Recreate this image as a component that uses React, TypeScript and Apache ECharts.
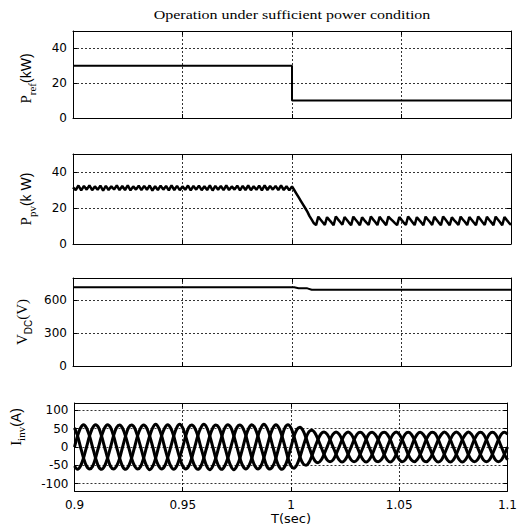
import React, { useEffect, useRef } from "react";
import * as echarts from "echarts";

const TITLE = "Operation under sufficient power condition";
const X_NAME = "T(sec)";
const X_MIN = 0.9;
const X_MAX = 1.1;
const X_TICKS = [0.9, 0.95, 1, 1.05, 1.1];

// Panel 1: P_ref (kW)
const PREF_T = [0.9, 1.0, 1.0, 1.1];
const PREF_V = [30, 30, 10, 10];
const PREF_TICKS = [0, 20, 40];

// Panel 2: P_pv (kW)
const PPV_PRE_T0 = 0.9;
const PPV_PRE_DT = 0.00125;
const PPV_PRE = [
  31.5, 30.0, 32.5, 29.8, 32.2, 30.2, 32.6, 29.9, 32.0, 30.1,
  32.4, 29.7, 32.3, 30.0, 32.1, 30.3, 32.5, 29.9, 32.2, 30.0,
  32.6, 29.8, 32.0, 30.2, 32.4, 29.9, 32.3, 30.1, 32.5, 29.7,
  32.1, 30.0, 32.4, 30.2, 32.2, 29.8, 32.6, 30.0, 32.3, 29.9,
  32.0, 30.1, 32.5, 29.8, 32.2, 30.2, 32.4, 29.9, 32.1, 30.0,
  32.6, 29.7, 32.3, 30.1, 32.2, 29.9, 32.5, 30.0, 32.0, 30.2,
  32.4, 29.8, 32.3, 30.0, 32.5, 29.9, 32.1, 30.1, 32.4, 29.8,
  32.6, 30.0, 32.2, 30.2, 32.3, 29.9, 32.5, 30.0, 32.1, 29.8,
  32.0,
];
const PPV_POST_T0 = 1.001;
const PPV_POST_DT = 0.001;
const PPV_POST = [
  30.0, 28.0, 26.0, 24.0, 22.0, 20.0, 18.0, 15.5, 13.5, 11.5, 10.5,
  15.2, 13.6, 12.1, 10.6,
  14.9, 13.4, 12.0, 10.4,
  15.3, 13.7, 12.2, 10.7,
  15.0, 13.5, 11.9, 10.5,
  15.2, 13.6, 12.1, 10.4,
  14.8, 13.3, 11.9, 10.6,
  15.3, 13.7, 12.2, 10.5,
  15.1, 13.5, 12.0, 10.4,
  15.2, 14.0, 12.8, 11.6, 10.5,
  15.0, 13.4, 11.9, 10.6,
  15.3, 13.7, 12.1, 10.5,
  14.9, 13.4, 12.0, 10.4,
  15.2, 13.6, 12.2, 10.6,
  15.1, 13.5, 11.9, 10.5,
  15.3, 13.7, 12.1, 10.4,
  14.8, 13.3, 12.0, 10.6,
  15.2, 13.6, 12.2, 10.5,
  15.0, 13.5, 11.9, 10.4,
  15.3, 13.7, 12.1, 10.6,
  15.1, 13.5, 12.0, 10.5,
  15.2, 13.6, 12.1, 10.4,
  15.0, 13.4, 11.9, 10.6,
];
const PPV_TICKS = [0, 20, 40];

// Panel 3: V_DC (V)
const VDC_T = [0.9, 1.001, 1.003, 1.007, 1.009, 1.1];
const VDC_V = [715, 715, 707, 706, 693, 693];
const VDC_TICKS = [0, 300, 600];

// Panel 4: I_inv (A), three phases sampled every 1/720 s
const IINV_T0 = 0.9;
const IINV_DT = 1 / 720;
const IA = [
  0, 30, 52, 61, 52, 30, 0, -30, -53, -61, -52, -30,
  0, 31, 53, 60, 51, 29, 0, -31, -52, -60, -53, -30,
  1, 30, 52, 62, 52, 30, -1, -30, -52, -61, -52, -29,
  0, 30, 53, 60, 52, 31, 0, -29, -53, -62, -52, -30,
  0, 29, 52, 61, 53, 30, 1, -30, -52, -60, -51, -30,
  0, 30, 52, 62, 52, 30, 0, -31, -53, -61, -52, -30,
  0, 29, 48, 54, 45, 25, 0, -23, -38, -43, -36, -20,
  0, 20, 35, 41, 35, 20, 0, -20, -35, -40, -35, -20,
  0, 21, 36, 40, 34, 20, 0, -21, -35, -41, -35, -20,
  0, 20, 35, 40, 35, 21, 0, -20, -36, -40, -34, -20,
  0, 20, 34, 41, 35, 20, 0, -20, -35, -41, -35, -21,
  0, 21, 35, 40, 35, 20, 0, -20, -35, -40, -35, -20,
  0,
];
const IB = [
  -52, -61, -52, -30, 0, 30, 52, 61, 53, 30, 0, -30,
  -53, -60, -52, -31, 0, 30, 53, 60, 52, 29, 0, -30,
  -52, -62, -53, -30, 1, 31, 52, 61, 52, 30, -1, -30,
  -52, -60, -52, -30, 0, 30, 52, 62, 53, 30, 0, -31,
  -53, -61, -51, -30, 0, 29, 53, 60, 52, 31, 0, -30,
  -52, -60, -52, -29, 0, 30, 52, 61, 52, 30, 1, -30,
  -52, -58, -48, -27, 0, 25, 42, 46, 38, 21, 0, -20,
  -35, -40, -35, -20, 0, 20, 35, 41, 35, 20, 0, -20,
  -35, -41, -35, -21, 0, 20, 36, 40, 35, 21, 0, -20,
  -34, -40, -35, -20, 0, 21, 35, 40, 34, 20, 0, -20,
  -35, -41, -36, -20, 0, 20, 35, 41, 35, 20, 0, -21,
  -35, -40, -35, -20, 0, 20, 35, 40, 35, 20, 0, -20,
  -35,
];
const IC = [
  52, 31, 0, -30, -52, -60, -53, -30, 0, 30, 52, 61,
  53, 30, 0, -30, -53, -61, -52, -30, 0, 31, 52, 60,
  52, 30, 1, -31, -52, -60, -52, -29, 0, 30, 53, 62,
  52, 29, 0, -30, -52, -61, -53, -30, 0, 30, 52, 60,
  53, 31, 0, -30, -52, -62, -52, -31, -1, 30, 52, 61,
  52, 30, 0, -29, -53, -60, -52, -30, 0, 29, 53, 61,
  52, 29, 0, -27, -45, -50, -42, -23, 0, 21, 36, 41,
  35, 20, 0, -20, -35, -41, -35, -20, 0, 20, 35, 40,
  35, 21, 0, -20, -36, -40, -35, -21, 0, 20, 35, 41,
  35, 20, 0, -21, -35, -40, -34, -20, 0, 21, 35, 40,
  36, 20, 0, -20, -35, -41, -35, -20, 0, 20, 34, 41,
  35, 20, 0, -20, -35, -40, -35, -20, 0, 20, 35, 40,
  35,
];
const IINV_TICKS = [-100, -50, 0, 50, 100];

const SANS = "'DejaVu Sans', sans-serif";
const ARIAL = "'Liberation Sans', Arial, sans-serif";
const SERIF = "'Liberation Serif', 'Times New Roman', serif";

const pairs = (ts: number[], vs: number[]) => ts.map((t, i) => [t, vs[i]]);
const sampled = (t0: number, dt: number, vs: number[]) =>
  vs.map((v, i) => [+(t0 + i * dt).toFixed(6), v]);

const GRIDS = [
  { top: 31, height: 87 },
  { top: 154, height: 90 },
  { top: 278, height: 88 },
  { top: 403, height: 88 },
];

const PANELS = [
  {
    min: 0, max: 50, ticks: PREF_TICKS,
    name: "{m|P}{s|ref}{u|(kW)}", nameGap: 36, pad: [0, 8, 0, 0],
  },
  {
    min: 0, max: 50, ticks: PPV_TICKS,
    name: "{m|P}{s|pv}{u|(k W)}", nameGap: 36, pad: [0, 0, 0, 0],
  },
  {
    min: 0, max: 800, ticks: VDC_TICKS,
    name: "{m|V}{s2|DC}{m|(V)}", nameGap: 40, pad: [0, 0, 0, 0],
  },
  {
    min: -120, max: 120, ticks: IINV_TICKS,
    name: "{m|I}{s|inv}{u|(A)}", nameGap: 48, pad: [0, 0, 0, 40],
  },
];

const RICH = {
  m: { fontFamily: SERIF, fontSize: 15, color: "#000", lineHeight: 22 },
  s: { fontFamily: SERIF, fontSize: 11, color: "#000", verticalAlign: "bottom", lineHeight: 11 },
  s2: { fontFamily: ARIAL, fontSize: 10, color: "#000", verticalAlign: "bottom", lineHeight: 11 },
  u: { fontFamily: ARIAL, fontSize: 14, color: "#000", lineHeight: 22 },
};

function buildOption() {
  const grid = GRIDS.map((g) => ({ left: 73, right: 9, top: g.top, height: g.height }));
  const xAxis: any[] = [];
  const yAxis: any[] = [];
  PANELS.forEach((p, i) => {
    const isLast = i === PANELS.length - 1;
    const lineCommon = { show: true, onZero: false, lineStyle: { color: "#000", width: 1 } };
    xAxis.push({
      type: "value", gridIndex: i, position: "bottom", min: X_MIN, max: X_MAX,
      axisLine: lineCommon,
      axisTick: { show: true, inside: true, length: 4, customValues: X_TICKS, lineStyle: { color: "#000" } },
      axisLabel: {
        show: isLast, customValues: X_TICKS, margin: 8, color: "#000",
        fontFamily: SANS, fontSize: 12,
      },
      splitLine: { show: true, lineStyle: { color: "#000", type: [2, 2], width: 0.8 } },
      name: isLast ? X_NAME : "",
      nameLocation: "middle", nameGap: 21,
      nameTextStyle: { fontFamily: SANS, fontSize: 13, color: "#000" },
    });
    xAxis.push({
      type: "value", gridIndex: i, position: "top", min: X_MIN, max: X_MAX,
      axisLine: lineCommon,
      axisTick: { show: true, inside: true, length: 4, customValues: X_TICKS, lineStyle: { color: "#000" } },
      axisLabel: { show: false },
      splitLine: { show: false },
    });
    yAxis.push({
      type: "value", gridIndex: i, position: "left", min: p.min, max: p.max,
      axisLine: lineCommon,
      axisTick: { show: true, inside: true, length: 4, customValues: p.ticks, lineStyle: { color: "#000" } },
      axisLabel: { customValues: p.ticks, margin: 6, color: "#000", fontFamily: SANS, fontSize: 12 },
      splitLine: { show: true, lineStyle: { color: "#000", type: [2, 2], width: 0.8 } },
      name: p.name, nameLocation: "middle", nameRotate: 90, nameGap: p.nameGap,
      nameTextStyle: { rich: RICH, padding: p.pad },
    });
    yAxis.push({
      type: "value", gridIndex: i, position: "right", min: p.min, max: p.max,
      axisLine: lineCommon,
      axisTick: { show: true, inside: true, length: 4, customValues: p.ticks, lineStyle: { color: "#000" } },
      axisLabel: { show: false },
      splitLine: { show: false },
    });
  });

  const lineSeries = (data: any[], idx: number, width: number, smooth: any = false) => ({
    type: "line", xAxisIndex: idx * 2, yAxisIndex: idx * 2, data, showSymbol: false,
    symbol: "none", smooth, silent: true, lineStyle: { color: "#000", width },
  });

  const series = [
    lineSeries(pairs(PREF_T, PREF_V), 0, 2),
    lineSeries(
      [...sampled(PPV_PRE_T0, PPV_PRE_DT, PPV_PRE), ...sampled(PPV_POST_T0, PPV_POST_DT, PPV_POST)],
      1, 2.5
    ),
    lineSeries(pairs(VDC_T, VDC_V), 2, 2),
    lineSeries(sampled(IINV_T0, IINV_DT, IA), 3, 3, 0.3),
    lineSeries(sampled(IINV_T0, IINV_DT, IB), 3, 3, 0.3),
    lineSeries(sampled(IINV_T0, IINV_DT, IC), 3, 3, 0.3),
  ];

  return {
    animation: false,
    backgroundColor: "#fff",
    grid,
    xAxis,
    yAxis,
    series,
    graphic: [
      {
        type: "text", x: 292, y: 15, scaleX: 1.23,
        style: {
          text: TITLE, fontFamily: SERIF, fontSize: 13, fill: "#000",
          textAlign: "center", textVerticalAlign: "middle", align: "center", verticalAlign: "middle",
        },
      },
    ],
  };
}

export default function App() {
  const ref = useRef<HTMLDivElement>(null);
  useEffect(() => {
    document.body.style.margin = "0";
    const chart = echarts.init(ref.current!, null, { renderer: "svg" });
    chart.setOption(buildOption() as any);
    return () => chart.dispose();
  }, []);
  return <div ref={ref} style={{ width: 520, height: 531 }} />;
}
